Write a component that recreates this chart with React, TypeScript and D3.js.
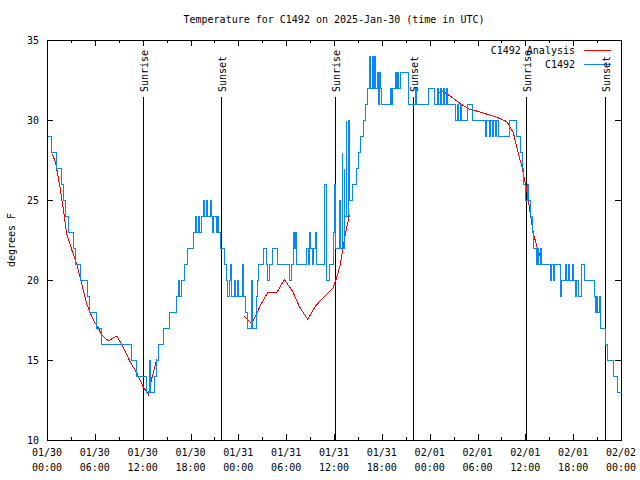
import React, { useEffect, useRef } from "react";
import * as d3 from "d3";

const title = "Temperature for C1492 on 2025-Jan-30 (time in UTC)";
const yLabel = "degrees F";
const tickDates = ["01/30", "01/30", "01/30", "01/30", "01/31", "01/31", "01/31", "01/31", "02/01", "02/01", "02/01", "02/01", "02/02"];
const tickTimes = ["00:00", "06:00", "12:00", "18:00", "00:00", "06:00", "12:00", "18:00", "00:00", "06:00", "12:00", "18:00", "00:00"];
const yTicks = [10, 15, 20, 25, 30, 35];

// hours since 2025-01-30 00:00 UTC
const sunHours = [12.05, 21.83, 36.14, 45.92, 60.1, 70.01];
const sunLabels = ["Sunrise", "Sunset", "Sunrise", "Sunset", "Sunrise", "Sunset"];

// observed temperature (hour, degF) at change points
const observed: [number, number][] = [
  [0, 29], [0.55, 28], [1.13, 27], [1.8, 26], [2.0, 25], [2.3, 24], [2.6, 23], [3.2, 22], [3.5, 21], [4.1, 20],
  [5.0, 19], [5.3, 18], [6.15, 17], [6.75, 16], [10.5, 15], [11.2, 14], [12.45, 13], [12.75, 15], [12.87, 13],
  [13.45, 14], [13.65, 15], [13.95, 16], [14.55, 17], [15.3, 18], [16.2, 19], [16.45, 20], [16.6, 19], [16.85, 20],
  [17.2, 21], [17.5, 22], [18.3, 23], [18.55, 24], [18.67, 23], [18.95, 24], [19.07, 23], [19.35, 24], [19.6, 25],
  [19.72, 24], [20.0, 25], [20.12, 24], [20.4, 25], [20.52, 24], [20.75, 23], [20.87, 24], [21.15, 23], [21.27, 24],
  [21.45, 23], [21.65, 22], [22.2, 21], [22.4, 20], [22.6, 19], [22.8, 20], [22.96, 21], [23.1, 19], [23.4, 20],
  [23.55, 19], [23.8, 20], [23.92, 19], [24.45, 21], [24.57, 19], [24.85, 18], [25.05, 17], [25.55, 20], [25.67, 17],
  [26.2, 19], [26.3, 20], [26.5, 21], [27.1, 22], [27.45, 21], [27.6, 20], [27.9, 21], [28.2, 22], [28.8, 21],
  [30.4, 20], [30.6, 21], [30.8, 23], [30.95, 22], [31.15, 23], [31.27, 21], [32.5, 22], [32.7, 21], [32.9, 23],
  [33.02, 22], [33.3, 21], [33.42, 22], [33.65, 23], [33.8, 21], [34.7, 26], [34.95, 20], [35.4, 21], [35.9, 23],
  [36.05, 26], [36.15, 22], [36.6, 25], [36.7, 22], [36.95, 28], [37.05, 22], [37.2, 27], [37.3, 24], [37.45, 30],
  [37.55, 24], [37.75, 30], [37.85, 25], [38.3, 26], [38.7, 27], [39.0, 28], [39.3, 29], [39.6, 30], [39.9, 31],
  [40.2, 32], [40.45, 34], [40.57, 32], [40.75, 34], [40.87, 32], [41.05, 34], [41.17, 32], [41.35, 33], [41.47, 31],
  [41.65, 33], [41.77, 32], [41.95, 31], [43.0, 32], [43.12, 31], [43.3, 32], [43.6, 33], [43.72, 32], [43.95, 33],
  [44.07, 32], [44.25, 33], [45.3, 31], [46.2, 32], [46.32, 31], [47.85, 32], [48.5, 31], [48.9, 32], [49.02, 31],
  [49.3, 32], [49.42, 31], [49.7, 32], [49.82, 31], [50.1, 32], [50.22, 31], [51.2, 30], [51.45, 31], [51.57, 30],
  [51.85, 31], [51.97, 30], [52.66, 31], [53.3, 30], [55.0, 29], [55.12, 30], [55.4, 29], [55.52, 30], [55.8, 29],
  [55.92, 30], [56.2, 29], [56.32, 30], [56.6, 29], [57.9, 30], [58.85, 29], [59.35, 28], [59.56, 27], [59.7, 26],
  [59.97, 25], [60.16, 26], [60.3, 25], [60.6, 24], [60.8, 23], [61.0, 22], [61.35, 21], [61.5, 22], [61.62, 21],
  [61.85, 22], [61.97, 21], [63.1, 20], [63.22, 21], [63.45, 20], [63.57, 21], [64.3, 19], [64.42, 20], [65.0, 21],
  [65.12, 20], [65.3, 21], [65.42, 20], [65.9, 21], [66.02, 20], [66.25, 19], [66.37, 20], [66.55, 19], [66.96, 21],
  [67.3, 20], [68.6, 19], [68.72, 18], [68.9, 19], [69.02, 18], [69.2, 19], [69.4, 17], [70.0, 16], [70.2, 15],
  [71.0, 14], [71.5, 13], [72, 13],
];

// analysis (hour, degF), three separate segments
const analysis1: [number, number][] = [
  [0.66, 27.9], [1.09, 27.3], [1.63, 25.8], [2.05, 24.4], [2.47, 22.9], [3.1, 21.9], [3.73, 21.0], [4.35, 19.8],
  [4.98, 18.5], [5.81, 17.5], [6.44, 17.0], [6.86, 16.56], [7.69, 16.2], [8.75, 16.5], [9.57, 15.8], [10.41, 14.9],
  [11.25, 14.2], [11.67, 13.75], [12.08, 13.3], [12.71, 12.85], [13.17, 13.9], [13.76, 15.04],
];
const analysis2: [number, number][] = [
  [24.72, 17.75], [25.68, 17.25], [26.31, 17.9], [26.85, 18.5], [27.68, 19.2], [28.82, 19.2], [29.77, 20.04],
  [30.83, 19.27], [31.66, 18.33], [32.71, 17.54], [33.66, 18.37], [34.8, 18.96], [35.85, 19.48], [36.26, 20.04],
  [36.76, 20.9], [37.0, 21.6], [37.4, 22.8], [37.93, 24.06],
];
const analysis3: [number, number][] = [
  [48.9, 31.7], [49.72, 31.77], [50.56, 31.5], [51.82, 31.04], [52.86, 30.7], [54.33, 30.5], [56.42, 30.17],
  [57.68, 29.9], [58.5, 29.2], [59.13, 27.9], [59.56, 27.1], [60.19, 25.6], [60.6, 24.2], [61.02, 22.9],
  [61.44, 22.1], [61.86, 21.46],
];

const W = 640, H = 480;
const M = { left: 47, right: 621, top: 40, bottom: 440 };
const FONT = "'DejaVu Sans Mono', monospace";
const RED = "#ff0000";
const BLUE = "#0a84ff";

export default function App() {
  const ref = useRef<SVGSVGElement>(null);
  useEffect(() => {
    const svg = d3.select(ref.current);
    svg.selectAll("*").remove();
    const x = d3.scaleLinear().domain([0, 72]).range([M.left, M.right]);
    const y = d3.scaleLinear().domain([10, 35]).range([M.bottom, M.top]);

    svg.append("rect").attr("width", W).attr("height", H).attr("fill", "#fff");

    // title
    svg.append("text").attr("x", 334).attr("y", 23).attr("text-anchor", "middle")
      .attr("font-family", FONT).attr("font-size", 10).text(title);

    // y label
    svg.append("text").attr("transform", `translate(15,${(M.top + M.bottom) / 2}) rotate(-90)`)
      .attr("text-anchor", "middle").attr("font-family", FONT).attr("font-size", 10).text(yLabel);

    const g = svg.append("g").attr("shape-rendering", "crispEdges");
    // y ticks
    yTicks.forEach((v) => {
      const yy = Math.round(y(v)) + 0.5;
      g.append("line").attr("x1", M.left).attr("x2", M.left + 6).attr("y1", yy).attr("y2", yy).attr("stroke", "#000");
      g.append("line").attr("x1", M.right - 6).attr("x2", M.right).attr("y1", yy).attr("y2", yy).attr("stroke", "#000");
      svg.append("text").attr("x", 39).attr("y", y(v) + 4).attr("text-anchor", "end")
        .attr("font-family", FONT).attr("font-size", 10).text(String(v));
    });
    // x ticks
    d3.range(0, 73, 3).forEach((h) => {
      const xx = Math.round(x(h)) + 0.5;
      const len = h % 6 === 0 ? 6 : 3;
      g.append("line").attr("x1", xx).attr("x2", xx).attr("y1", M.bottom).attr("y2", M.bottom - len).attr("stroke", "#000");
      g.append("line").attr("x1", xx).attr("x2", xx).attr("y1", M.top).attr("y2", M.top + len).attr("stroke", "#000");
    });
    tickDates.forEach((d, i) => {
      const xx = x(i * 6);
      svg.append("text").attr("x", xx).attr("y", 456).attr("text-anchor", "middle")
        .attr("font-family", FONT).attr("font-size", 10).text(d);
      svg.append("text").attr("x", xx).attr("y", 471).attr("text-anchor", "middle")
        .attr("font-family", FONT).attr("font-size", 10).text(tickTimes[i]);
    });

    // sunrise / sunset
    sunHours.forEach((h, i) => {
      const xx = Math.round(x(h)) + 0.5;
      g.append("line").attr("x1", xx).attr("x2", xx).attr("y1", 97).attr("y2", M.bottom).attr("stroke", "#000");
      svg.append("text").attr("transform", `translate(${xx + 4},92) rotate(-90)`)
        .attr("font-family", FONT).attr("font-size", 10).text(sunLabels[i]);
    });

    const lineLin = d3.line<[number, number]>().x((d) => x(d[0])).y((d) => y(d[1]));
    [analysis1, analysis2, analysis3].forEach((seg) => {
      svg.append("path").attr("d", lineLin(seg)).attr("fill", "none").attr("stroke", RED)
        .attr("stroke-width", 1).attr("shape-rendering", "crispEdges");
    });
    const lineStep = d3.line<[number, number]>()
      .x((d) => Math.round(x(d[0])) + 0.5).y((d) => Math.round(y(d[1])) + 0.5).curve(d3.curveStepAfter);
    svg.append("path").attr("d", lineStep(observed)).attr("fill", "none").attr("stroke", BLUE)
      .attr("stroke-width", 1).attr("shape-rendering", "crispEdges");

    // frame
    g.append("rect").attr("x", M.left + 0.5).attr("y", M.top + 0.5).attr("width", M.right - M.left)
      .attr("height", M.bottom - M.top).attr("fill", "none").attr("stroke", "#000");

    // legend
    const legend = [
      { label: "C1492 Analysis", color: RED, yy: 50 },
      { label: "C1492", color: BLUE, yy: 64 },
    ];
    legend.forEach((l) => {
      svg.append("text").attr("x", 575).attr("y", l.yy + 4).attr("text-anchor", "end")
        .attr("font-family", FONT).attr("font-size", 10).text(l.label);
      g.append("line").attr("x1", 584).attr("x2", 611).attr("y1", l.yy + 0.5).attr("y2", l.yy + 0.5)
        .attr("stroke", l.color).attr("stroke-width", 1);
    });
  }, []);
  return (
    <svg ref={ref} width={W} height={H} style={{ position: "absolute", left: 0, top: 0 }} />
  );
}
